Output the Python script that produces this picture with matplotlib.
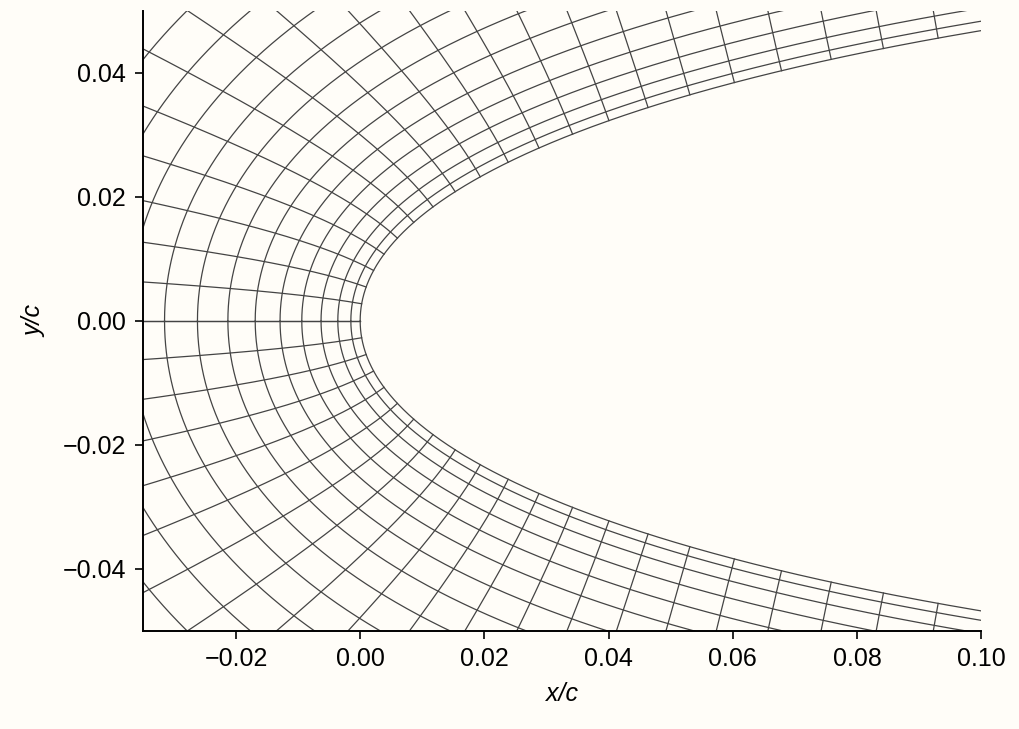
import numpy as np
import matplotlib.pyplot as plt

plt.rcParams["font.family"] = ["Liberation Sans", "DejaVu Sans"]

# NACA 0012 thickness coefficients
thickness = 0.12
naca_coef = [0.2969, -0.1260, -0.3516, 0.2843, -0.1015]
# wall-normal offsets of the grid layers (in chord units)
layer_offsets = [0.0, 0.0015, 0.0036, 0.0063, 0.0094, 0.0129, 0.0169, 0.0213,
                 0.0262, 0.0315, 0.0373, 0.0437, 0.0507, 0.0584, 0.0669, 0.0762,
                 0.0864, 0.0976, 0.11]
# angular surface stations (cosine spacing parameter)
theta_step = 0.031
n_stations = 24
# focus toward which the grid lines near the nose turn
focus = (0.06, 0.0)
blend_len = 0.025
blend_decay = 0.03

bg = "#fffdf8"
line_col = "#444444"


def surface(x):
    a0, a1, a2, a3, a4 = naca_coef
    return 5 * thickness * (a0 * np.sqrt(x) + a1 * x + a2 * x**2 + a3 * x**3 + a4 * x**4)


def normals(x, eps=1e-7):
    lo = np.clip(x - eps, 0, None)
    dydx = (surface(x + eps) - surface(lo)) / (x + eps - lo)
    n = np.stack([-dydx, np.ones_like(dydx)])
    n /= np.linalg.norm(n, axis=0)
    n[:, x <= 0] = np.array([[-1.0], [0.0]])
    return n


def grid_point(x, y, n, d):
    r = np.stack([x - focus[0], y - focus[1]])
    r /= np.linalg.norm(r, axis=0)
    w = d / (d + blend_len) * np.exp(-x / blend_decay)
    dirn = (1 - w) * n + w * r
    dirn /= np.linalg.norm(dirn, axis=0)
    return x + d * dirn[0], y + d * dirn[1]


t_dense = np.linspace(0, 0.9, 900)
x_dense = (1 - np.cos(t_dense)) / 2
y_dense = surface(x_dense)
n_dense = normals(x_dense)

t_st = np.arange(n_stations) * theta_step
x_st = (1 - np.cos(t_st)) / 2
y_st = surface(x_st)
n_st = normals(x_st)

fig, ax = plt.subplots(figsize=(10.2, 7.29), dpi=100)
fig.patch.set_facecolor(bg)
ax.set_facecolor(bg)

kw = dict(color=line_col, lw=0.9)
d_fine = np.linspace(0, layer_offsets[-1], 200)
ones = np.ones_like(d_fine)
for sgn in (1, -1):
    for d in layer_offsets:
        gx, gy = grid_point(x_dense, y_dense, n_dense, d)
        ax.plot(gx, sgn * gy, **kw)
    for i in range(n_stations):
        n_i = n_st[:, i:i + 1] * ones
        gx, gy = grid_point(x_st[i] * ones, y_st[i] * ones, n_i, d_fine)
        ax.plot(gx, sgn * gy, **kw)

ax.set_xlim(-0.035, 0.1)
ax.set_ylim(-0.05, 0.05)
ax.set_xticks([-0.02, 0.0, 0.02, 0.04, 0.06, 0.08, 0.10])
ax.set_yticks([-0.04, -0.02, 0.0, 0.02, 0.04])
ax.set_xticklabels(["\u22120.02", "0.00", "0.02", "0.04", "0.06", "0.08", "0.10"])
ax.set_yticklabels(["\u22120.04", "\u22120.02", "0.00", "0.02", "0.04"])
ax.set_xlabel("x/c", fontsize=18, style="italic", labelpad=8)
ax.set_ylabel("y/c", fontsize=18, style="italic", labelpad=12)
ax.tick_params(labelsize=18, direction="out", length=6, width=1.2, pad=6)
for s in ("top", "right"):
    ax.spines[s].set_visible(False)
for s in ("left", "bottom"):
    ax.spines[s].set_linewidth(1.4)

plt.subplots_adjust(left=0.14, right=0.962, top=0.985, bottom=0.135)
fig.savefig("out.png", dpi=100, facecolor=bg)
